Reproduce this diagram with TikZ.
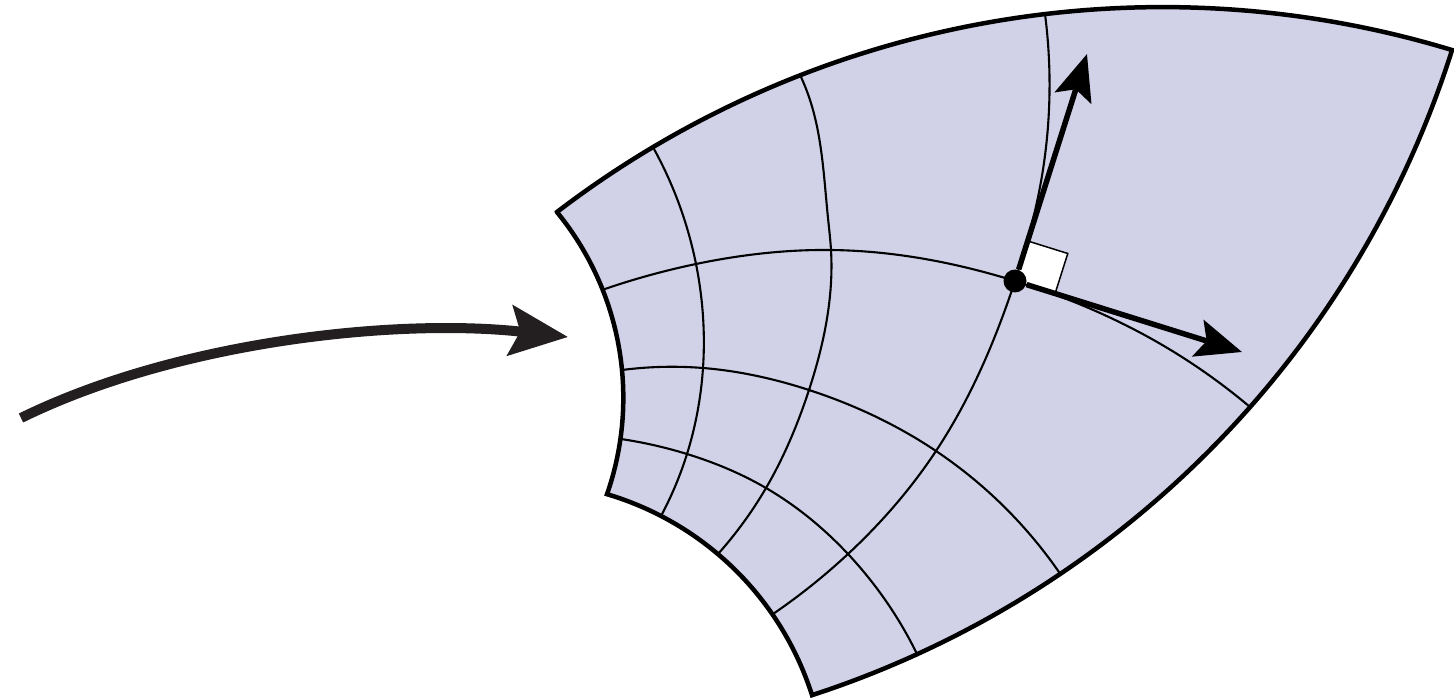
\documentclass[tikz,border=0pt]{standalone}
\usepackage{xcolor}
\usepackage{tikz}
\usetikzlibrary{arrows.meta, calc, hobby}

\definecolor{sheetfill}{RGB}{209,210,232}
\definecolor{arrowgray}{RGB}{35,31,32}

\begin{document}
\begin{tikzpicture}[
        % Styles for the mapped sheet
        sheet/.style={fill=sheetfill},
        rim/.style={draw=black, line width=0.045cm},
        gridline/.style={draw=black, line width=0.021cm},
        vec/.style={draw=black, line width=0.055cm,
            -{Stealth[length=0.46cm, width=0.38cm, inset=0.09cm]}},
        bigarrow/.style={draw=arrowgray, line width=0.1cm,
            -{Stealth[length=0.58cm, width=0.5cm, inset=0.1cm]}},
        dot/.style={circle, fill=black, inner sep=0pt, minimum size=0.23cm},
        rightangle/.style={draw=black, fill=white, line width=0.015cm}
    ]
    \useasboundingbox (0,0) rectangle (14.54,6.98);

    % 1. GRID VERTICES (row = curve from left edge to right edge)
    \coordinate (g00) at (5.57,4.86);
    \coordinate (g01) at (6.54,5.49);
    \coordinate (g02) at (8.01,6.21);
    \coordinate (g03) at (10.45,6.84);
    \coordinate (g04) at (14.52,6.48);

    \coordinate (g10) at (6.02,4.08);
    \coordinate (g11) at (6.96,4.34);
    \coordinate (g12) at (8.31,4.48);
    \coordinate (g13) at (10.15,4.17);
    \coordinate (g14) at (12.50,2.91);

    \coordinate (g20) at (6.22,3.28);
    \coordinate (g21) at (7.03,3.30);
    \coordinate (g22) at (8.09,3.08);
    \coordinate (g23) at (9.36,2.47);
    \coordinate (g24) at (10.61,1.23);

    \coordinate (g30) at (6.21,2.59);
    \coordinate (g31) at (6.87,2.44);
    \coordinate (g32) at (7.66,2.10);
    \coordinate (g33) at (8.48,1.44);
    \coordinate (g34) at (9.18,0.42);

    \coordinate (g40) at (6.07,2.04);
    \coordinate (g41) at (6.61,1.82);
    \coordinate (g42) at (7.18,1.44);
    \coordinate (g43) at (7.73,0.84);
    \coordinate (g44) at (8.12,0.03);

    % 2. FILLED SHEET WITH ITS RIM (four circular arcs)
    \path[sheet, rim] (g00)
        arc[start angle=127.39, end angle=73.12, radius=9.972]
        arc[start angle=-17.60, end angle=-71.95, radius=9.949]
        arc[start angle=17.64, end angle=73.49, radius=3.065]
        arc[start angle=-19.19, end angle=39.28, radius=2.932]
        -- cycle;

    % 3. INNER GRID LINES
    \draw[gridline] (g10) to[curve through={(g11) (g12) (g13) (11.50,3.60)}] (g14);
    \draw[gridline] (g20) to[curve through={(g21) (g22) (g23)}] (g24);
    \draw[gridline] (g30) to[curve through={(g31) (g32) (g33)}] (g34);

    \draw[gridline] (g01) to[curve through={(g11) (g21) (g31)}] (g41);
    \draw[gridline] (g02) to[curve through={(8.10,5.98) (8.28,4.80) (g12) (g22) (g32)}] (g42);
    \draw[gridline] (g03) to[curve through={(10.40,5.11) (g13) (g23) (g33)}] (g43);

    % 4. RIGHT ANGLE MARK, POINT AND ITS TWO VECTORS
    \coordinate (tipN) at (10.87,6.44);
    \coordinate (tipT) at (12.42,3.46);
    \coordinate (boxN) at ($(g13)!0.42cm!(tipN)$);
    \coordinate (boxT) at ($(g13)!0.42cm!(tipT)$);
    \draw[rightangle] (g13) -- (boxN) -- ($(boxN)+(boxT)-(g13)$) -- (boxT) -- cycle;

    \node[dot] (pt) at (g13) {};
    \draw[vec] (pt) -- (tipN);
    \draw[vec] (pt) -- (tipT);

    % 5. INCOMING ARROW
    \coordinate (src) at (0.21,2.80);
    \coordinate (dst) at (5.68,3.61);
    \draw[bigarrow] (src) .. controls (1.80,3.58) and (4.00,3.80) .. (dst);

\end{tikzpicture}
\end{document}
